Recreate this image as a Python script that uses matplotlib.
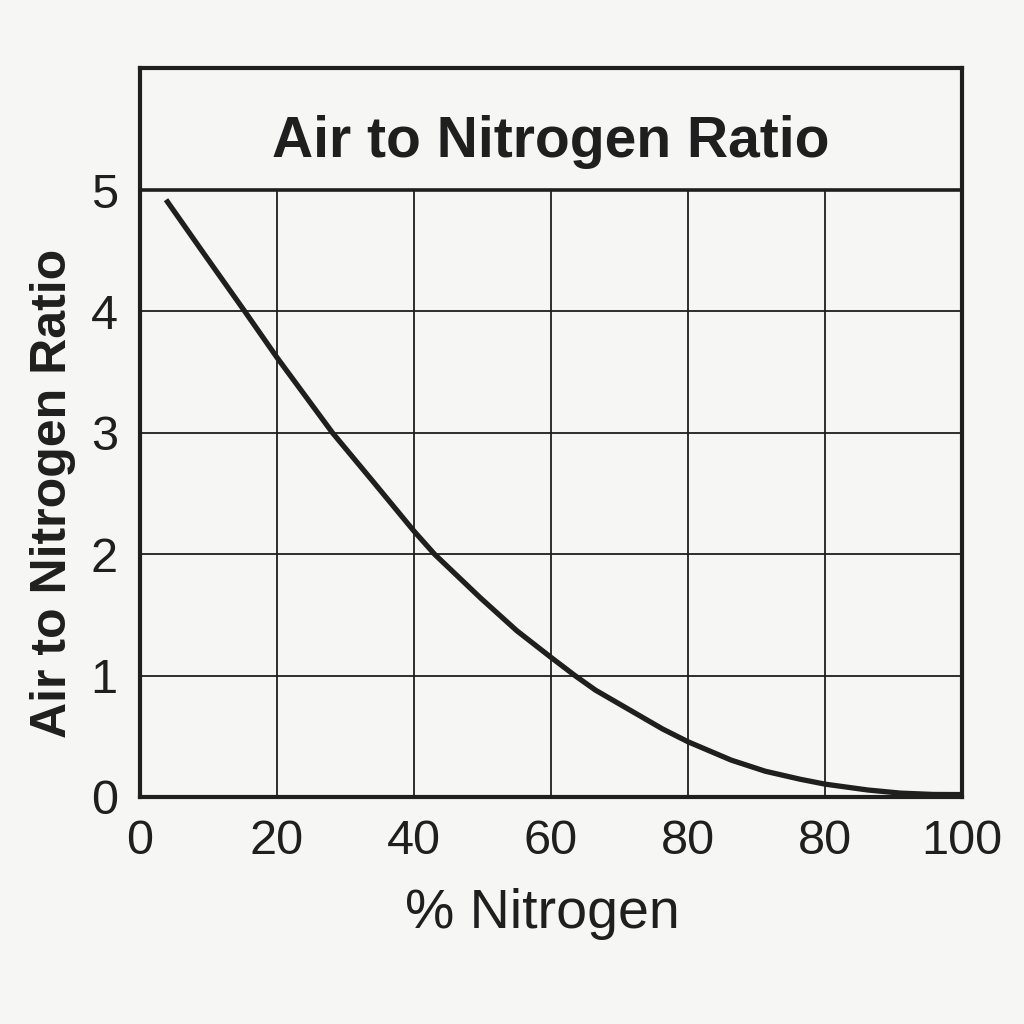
import numpy as np
import matplotlib
matplotlib.use("Agg")
import matplotlib.pyplot as plt

# values (x in axis units, ticks every 20)
pct_nitrogen = [3.8, 9.4, 15.3, 20, 28.1, 34.0, 40, 43.0, 49.7, 55, 60, 63.5,
                66.5, 71.4, 76.3, 80, 86.3, 91.3, 96.4, 100, 106.2, 111.0,
                115.8, 120]
air_ratio = [4.92, 4.47, 4.0, 3.62, 3.0, 2.60, 2.19, 2.0, 1.64, 1.37, 1.15,
             1.0, 0.88, 0.72, 0.56, 0.455, 0.304, 0.212, 0.146, 0.106, 0.058,
             0.032, 0.021, 0.02]

x_ticks = [0, 20, 40, 60, 80, 100, 120]
x_tick_labels = ["0", "20", "40", "60", "80", "80", "100"]
y_ticks = [0, 1, 2, 3, 4, 5]

title = "Air to Nitrogen Ratio"
x_label = "% Nitrogen"
y_label = "Air to Nitrogen Ratio"

ink = "#1f1f1f"
paper = "#f6f6f4"

plt.rcParams["font.family"] = ["Liberation Sans", "DejaVu Sans"]

fig = plt.figure(figsize=(10.24, 10.24), dpi=100, facecolor=paper)
ax = fig.add_axes([140 / 1024, 1 - 797 / 1024, 822 / 1024, 729 / 1024])
ax.set_facecolor(paper)

y_top = 5 + (190 - 68) / 121.4
ax.set_xlim(0, 120)
ax.set_ylim(0, y_top)

# grid only inside the data region, title box above it
ax.vlines(x_ticks[1:-1], 0, 5, color=ink, linewidth=1.3)
ax.hlines(y_ticks[1:-1], 0, 120, color=ink, linewidth=1.3)
ax.axhline(5, color=ink, linewidth=2.6)

ax.plot(pct_nitrogen, air_ratio, color=ink, linewidth=3.8,
        solid_capstyle="butt", solid_joinstyle="round")

ax.text(60, 5.27, title, ha="center", va="baseline", fontsize=41,
        fontweight="bold", color=ink)

for s in ax.spines.values():
    s.set_linewidth(3)
    s.set_color(ink)

ax.set_xticks(x_ticks)
ax.set_xticklabels(x_tick_labels)
ax.set_yticks(y_ticks)
ax.set_yticklabels([str(v) for v in y_ticks])
ax.tick_params(length=0, labelsize=35, colors=ink)
ax.tick_params(axis="x", pad=16)
ax.tick_params(axis="y", pad=16)

ax.set_xlabel(x_label, fontsize=40, color=ink)
ax.xaxis.set_label_coords((542 - 140) / 822, -(888 - 797) / 729)
ax.set_ylabel(y_label, fontsize=36, fontweight="bold", color=ink)
ax.yaxis.set_label_coords((76 - 140) / 822, 2.5 / y_top)

fig.savefig("out.png", dpi=100, facecolor=paper)
